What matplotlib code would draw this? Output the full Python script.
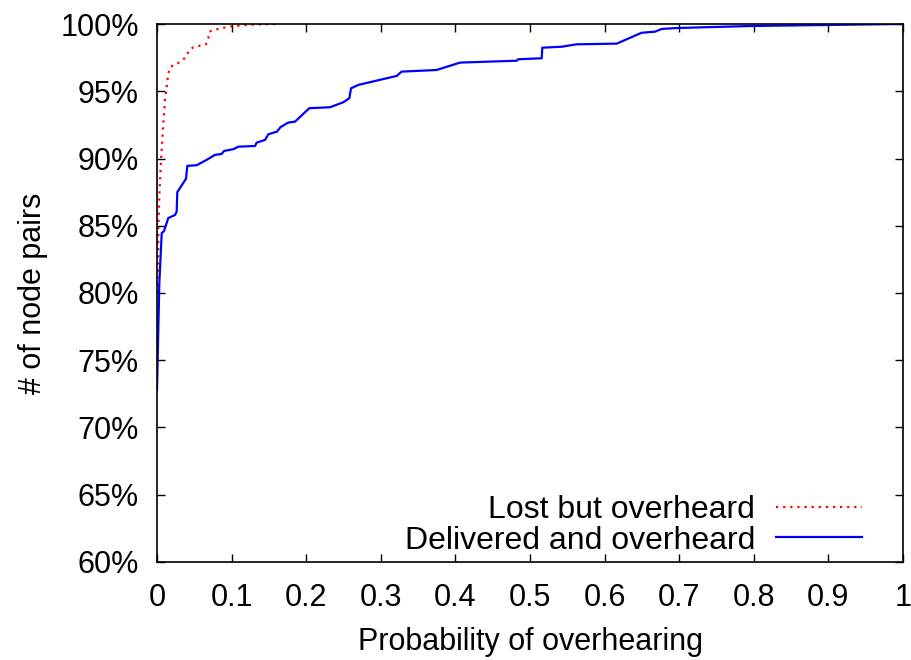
import matplotlib
matplotlib.use("Agg")
import matplotlib.pyplot as plt
from matplotlib.ticker import FuncFormatter

# CDF of overhearing probability, lost packets
lost_x = [0.0, 0.0017, 0.0017, 0.0031, 0.0054, 0.0076, 0.0107, 0.0130, 0.0151,
          0.0184, 0.0255, 0.0331, 0.0389, 0.0433, 0.0487, 0.0576, 0.0657,
          0.0688, 0.0701, 0.0777, 0.0867, 0.0956, 0.125, 0.161]
lost_y = [80.0, 82.5, 84.7, 87.2, 89.9, 91.9, 94.35, 95.34, 96.34,
          96.83, 97.0, 97.25, 97.57, 98.07, 98.27, 98.39, 98.49,
          98.94, 99.43, 99.58, 99.68, 99.8, 99.95, 100.0]

# CDF of overhearing probability, delivered packets
deliv_x = [0.0, 0.0031, 0.0063, 0.0094, 0.0151, 0.0241, 0.0264, 0.0272, 0.0389,
           0.0406, 0.0532, 0.0666, 0.0777, 0.0867, 0.0898, 0.1023, 0.1090,
           0.1314, 0.1336, 0.1448, 0.1492, 0.1609, 0.1655, 0.1760, 0.1850,
           0.2042, 0.2319, 0.2497, 0.2578, 0.2601, 0.2698, 0.3213, 0.3280,
           0.3749, 0.4062, 0.4822, 0.4843, 0.5157, 0.5165, 0.5425, 0.5626,
           0.6162, 0.6497, 0.6676, 0.6765, 0.6966, 0.7949, 0.996, 1.0]
deliv_y = [72.8, 80.7, 84.45, 84.6, 85.57, 85.8, 86.05, 87.5, 88.5,
           89.45, 89.5, 89.9, 90.27, 90.34, 90.56, 90.69, 90.88,
           90.93, 91.18, 91.38, 91.8, 92.0, 92.33, 92.67, 92.74,
           93.74, 93.81, 94.18, 94.48, 95.22, 95.47, 96.14, 96.46,
           96.58, 97.13, 97.27, 97.38, 97.45, 98.24, 98.31, 98.49,
           98.54, 99.35, 99.43, 99.63, 99.7, 99.85, 100.0, 100.0]

x_ticks = [0, 0.1, 0.2, 0.3, 0.4, 0.5, 0.6, 0.7, 0.8, 0.9, 1]
y_ticks = [60, 65, 70, 75, 80, 85, 90, 95, 100]

plt.rcParams['font.family'] = ['Liberation Sans', 'DejaVu Sans']

fig = plt.figure(figsize=(9.11, 6.6), dpi=100)
ax = fig.add_axes([157 / 911, 1 - 562 / 660, 746 / 911, 538 / 660])

ax.plot(lost_x, lost_y, color='#ff0000', lw=1.6, linestyle=(0, (1, 2.2)),
        label='Lost but overheard')
ax.plot(deliv_x, deliv_y, color='#0000ff', lw=1.6,
        label='Delivered and overheard')

ax.set_xlim(0, 1)
ax.set_ylim(60, 100)
ax.set_xticks(x_ticks)
ax.set_yticks(y_ticks)
ax.xaxis.set_major_formatter(FuncFormatter(lambda v, p: f"{v:g}"))
ax.yaxis.set_major_formatter(FuncFormatter(lambda v, p: f"{v:.0f}%"))

ax.tick_params(direction='in', length=6, width=1, top=True, right=True)
ax.tick_params(axis='y', labelsize=22, pad=13)
ax.tick_params(axis='x', labelsize=22, pad=15)
for s in ax.spines.values():
    s.set_linewidth(1.2)

ax.set_xlabel('Probability of overhearing', fontsize=22, labelpad=10)
ax.set_ylabel('# of node pairs', fontsize=22, labelpad=9)

ax.legend(loc='lower right', bbox_to_anchor=(0.945, 0.012), frameon=False,
          markerfirst=False, fontsize=23, handlelength=2.7,
          handletextpad=0.65, labelspacing=0.02, borderpad=0, borderaxespad=0)

fig.savefig('out.png', dpi=100)
